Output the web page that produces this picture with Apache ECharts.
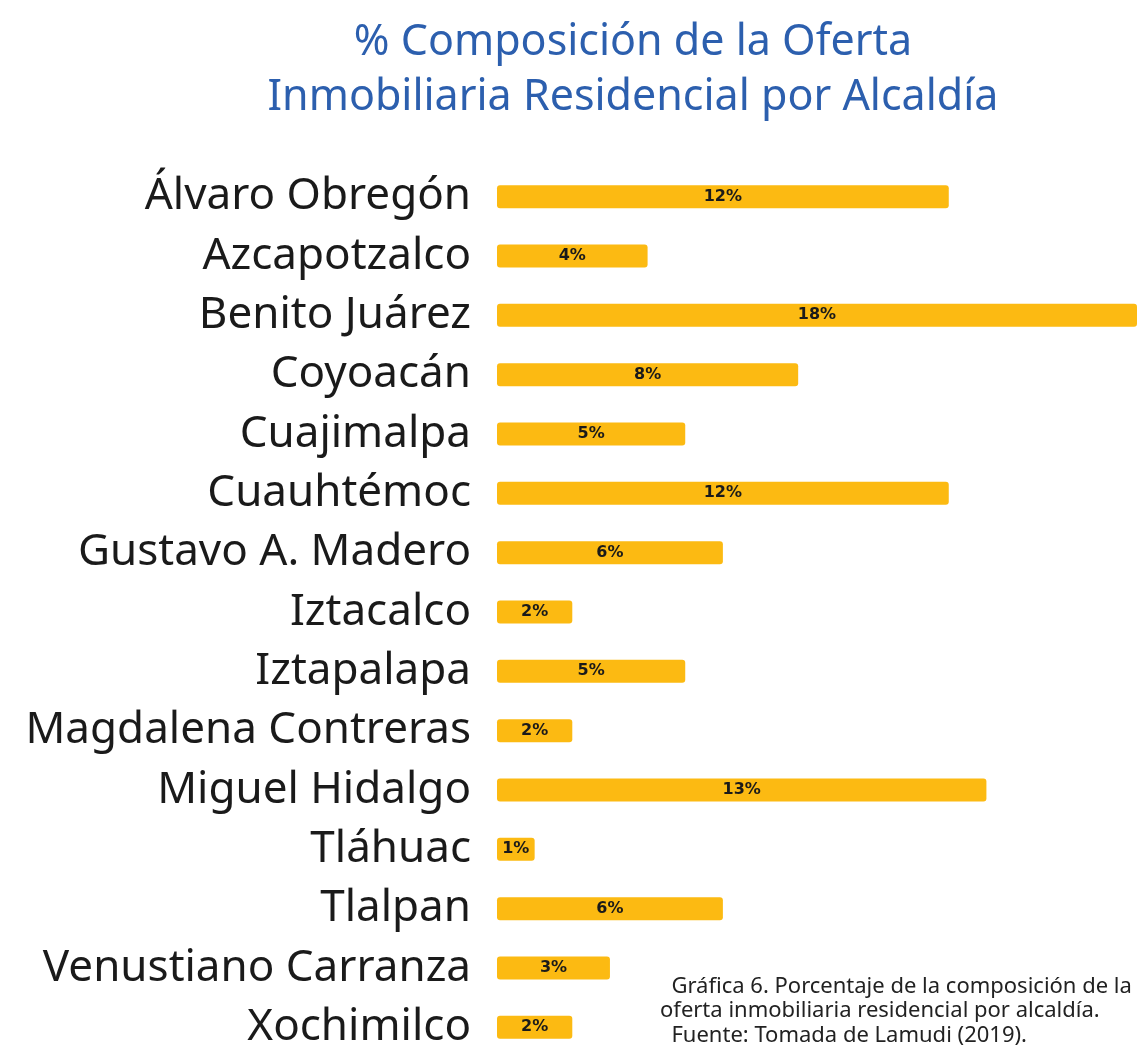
<!DOCTYPE html>
<html>
<head>
<meta charset="utf-8">
<script src="https://cdn.jsdelivr.net/npm/echarts@6/dist/echarts.min.js"></script>
<style>
  html, body { margin: 0; padding: 0; background: #fff; }
  #chart { width: 1137px; height: 1057px; }
</style>
</head>
<body>
<div id="chart"></div>
<script>
const alcaldias = [
  'Álvaro Obregón', 'Azcapotzalco', 'Benito Juárez', 'Coyoacán', 'Cuajimalpa',
  'Cuauhtémoc', 'Gustavo A. Madero', 'Iztacalco', 'Iztapalapa', 'Magdalena Contreras',
  'Miguel Hidalgo', 'Tláhuac', 'Tlalpan', 'Venustiano Carranza', 'Xochimilco'
]
const porcentajes = [12, 4, 18, 8, 5, 12, 6, 2, 5, 2, 13, 1, 6, 3, 2]

const titulo = '% Composición de la Oferta\nInmobiliaria Residencial por Alcaldía'
const nota = [
  '  Gráfica 6. Porcentaje de la composición de la',
  'oferta inmobiliaria residencial por alcaldía.',
  '  Fuente: Tomada de Lamudi (2019).'
]

const chart = echarts.init(document.getElementById('chart'))

const option = {
  backgroundColor: '#fff',
  animation: false,
  title: {
    text: titulo,
    left: 628,
    top: 10,
    textAlign: 'center',
    textStyle: {
      color: '#2c5fae',
      fontSize: 43,
      fontWeight: 'normal',
      fontFamily: 'Noto Sans',
      lineHeight: 55
    }
  },
  grid: {
    left: 497,
    right: 0,
    top: 167,
    height: 898
  },
  xAxis: {
    type: 'value',
    min: 0,
    max: 17,
    show: false
  },
  yAxis: {
    type: 'category',
    data: alcaldias,
    inverse: true,
    axisLine: { show: false },
    axisTick: { show: false },
    axisLabel: {
      color: '#1a1a1a',
      fontSize: 44,
      fontFamily: 'Noto Sans',
      margin: 26
    }
  },
  series: [
    {
      type: 'bar',
      data: porcentajes,
      barWidth: 23,
      clip: true,
      itemStyle: {
        color: '#fcba12',
        borderRadius: 3
      },
      label: {
        show: true,
        position: 'inside',
        formatter: '{c}%',
        color: '#1a1a1a',
        fontSize: 16,
        fontWeight: 'bold',
        fontFamily: 'DejaVu Sans'
      }
    }
  ],
  graphic: [
    {
      type: 'text',
      left: 660,
      top: 974,
      style: {
        text: nota.join('\n'),
        fill: '#222',
        fontSize: 22,
        fontFamily: 'Noto Sans',
        lineHeight: 24.5
      }
    }
  ]
}

chart.setOption(option)
</script>
</body>
</html>
